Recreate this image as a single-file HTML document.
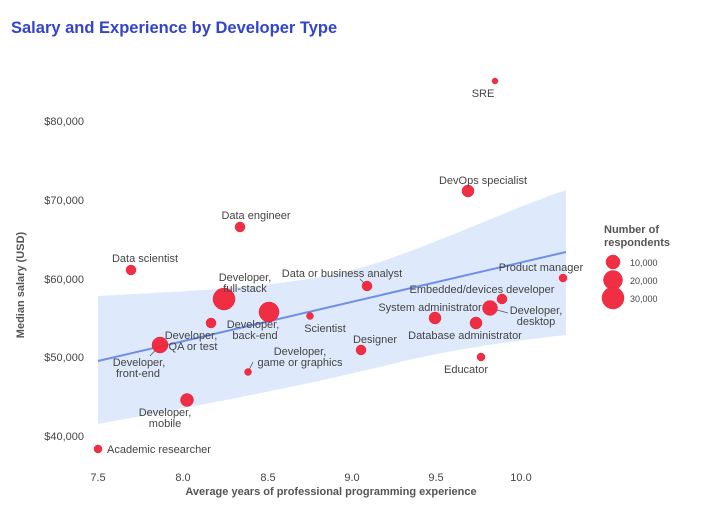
<!DOCTYPE html>
<html><head><meta charset="utf-8"><style>
body{margin:0;background:#fff}
svg text{font-family:"Liberation Sans",Arial,sans-serif}
</style></head><body>
<svg width="714" height="512" viewBox="0 0 714 512" xmlns="http://www.w3.org/2000/svg">
<rect width="714" height="512" fill="#fff"/>
<text x="11" y="33" font-size="16.5" font-weight="bold" fill="#3344cc">Salary and Experience by Developer Type</text>
<g font-size="11" fill="#444" text-anchor="end">
<text x="84" y="125">$80,000</text>
<text x="84" y="204">$70,000</text>
<text x="84" y="283">$60,000</text>
<text x="84" y="361">$50,000</text>
<text x="84" y="440">$40,000</text>
</g>
<g font-size="11" fill="#444" text-anchor="middle">
<text x="98" y="481">7.5</text>
<text x="183" y="481">8.0</text>
<text x="268" y="481">8.5</text>
<text x="352" y="481">9.0</text>
<text x="436" y="481">9.5</text>
<text x="521" y="481">10.0</text>
</g>
<text x="331" y="495" font-size="11" font-weight="bold" fill="#555" text-anchor="middle">Average years of professional programming experience</text>
<text transform="translate(24,285) rotate(-90)" font-size="11" font-weight="bold" fill="#555" text-anchor="middle">Median salary (USD)</text>
<path d="M98,296 C200,290 300,288 380,262 C450,238 520,205 566,190 L566,335 C520,340 460,348 400,362 C320,382 230,400 98,424 Z" fill="#d6e5fb" opacity="0.8"/>
<line x1="98" y1="361" x2="566" y2="252" stroke="#6f8fe6" stroke-width="2"/>
<g stroke="#555" stroke-width="0.8">
<line x1="360" y1="279" x2="367" y2="286"/>
<line x1="160" y1="345" x2="150" y2="356"/>
<line x1="248" y1="372" x2="253" y2="362"/>
<line x1="490" y1="308" x2="508" y2="313"/>
</g>
<g fill="#f0243a" stroke="#e01830" stroke-width="0.5" opacity="0.95">
<circle cx="495" cy="81" r="3"/>
<circle cx="468" cy="191" r="6"/>
<circle cx="240" cy="227" r="5"/>
<circle cx="131" cy="270" r="5"/>
<circle cx="224" cy="299" r="11"/>
<circle cx="269" cy="312" r="10"/>
<circle cx="367" cy="286" r="5"/>
<circle cx="310" cy="316" r="3.5"/>
<circle cx="211" cy="323" r="5"/>
<circle cx="160" cy="345" r="8"/>
<circle cx="248" cy="372" r="3.5"/>
<circle cx="361" cy="350" r="5"/>
<circle cx="187" cy="400" r="6.5"/>
<circle cx="98" cy="449" r="4"/>
<circle cx="435" cy="318" r="6"/>
<circle cx="476" cy="323" r="6"/>
<circle cx="490" cy="308" r="7.5"/>
<circle cx="502" cy="299" r="5"/>
<circle cx="563" cy="278" r="4"/>
<circle cx="481" cy="357" r="4"/>
<circle cx="613" cy="262" r="7"/>
<circle cx="613" cy="280" r="9.5"/>
<circle cx="613" cy="298" r="11"/>
</g>
<g font-size="11" fill="#444" text-anchor="middle">
<text x="483" y="97">SRE</text>
<text x="483" y="184">DevOps specialist</text>
<text x="256" y="219">Data engineer</text>
<text x="145" y="262">Data scientist</text>
<text x="245" y="281">Developer,</text>
<text x="245" y="292">full-stack</text>
<text x="253" y="328">Developer,</text>
<text x="255" y="339">back-end</text>
<text x="342" y="277">Data or business analyst</text>
<text x="325" y="332">Scientist</text>
<text x="191" y="339">Developer,</text>
<text x="193" y="350">QA or test</text>
<text x="139" y="366">Developer,</text>
<text x="138" y="377">front-end</text>
<text x="300" y="355">Developer,</text>
<text x="300" y="366">game or graphics</text>
<text x="375" y="343">Designer</text>
<text x="165" y="416">Developer,</text>
<text x="165" y="427">mobile</text>
<text x="159" y="453" fill="#444">Academic researcher</text>
<text x="430" y="311">System administrator</text>
<text x="465" y="339">Database administrator</text>
<text x="536" y="314">Developer,</text>
<text x="536" y="325">desktop</text>
<text x="482" y="293">Embedded/devices developer</text>
<text x="541" y="271">Product manager</text>
<text x="466" y="373">Educator</text>
</g>
<text x="604" y="233" font-size="11" font-weight="bold" fill="#555">Number of</text>
<text x="604" y="246" font-size="11" font-weight="bold" fill="#555">respondents</text>
<g font-size="9" fill="#444">
<text x="630" y="266">10,000</text>
<text x="630" y="284">20,000</text>
<text x="630" y="302">30,000</text>
</g>
</svg>
</body></html>
